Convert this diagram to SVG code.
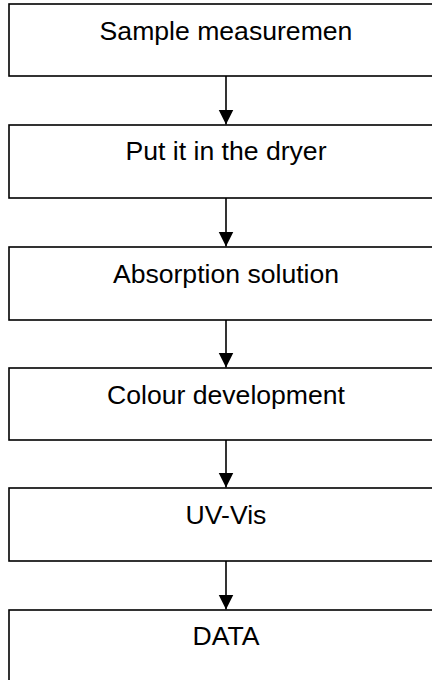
<svg xmlns="http://www.w3.org/2000/svg" width="432" height="680" viewBox="0 0 432 680">
<style>
.box{fill:#fff;stroke:#000;stroke-width:1.6}
.lbl{font-family:"Liberation Sans",Arial,sans-serif;font-size:26.6px;fill:#000;text-anchor:middle}
.con{stroke:#000;stroke-width:1.6;fill:none}
</style>
<defs>
<marker id="ah" markerUnits="userSpaceOnUse" markerWidth="16" markerHeight="16" refX="15" refY="7.5" orient="auto">
<path d="M0,0 L15,7.5 L0,15 Z" fill="#000"/>
</marker>
</defs>
<rect width="432" height="680" fill="#fff"/>
<g id="n1"><rect class="box" x="9" y="4" width="434" height="72"/><text class="lbl" x="226" y="39.5">Sample measuremen</text></g>
<g id="n2"><rect class="box" x="9" y="125" width="434" height="73"/><text class="lbl" x="226" y="160">Put it in the dryer</text></g>
<g id="n3"><rect class="box" x="9" y="247" width="434" height="73"/><text class="lbl" x="226" y="282.5">Absorption solution</text></g>
<g id="n4"><rect class="box" x="9" y="368" width="434" height="72"/><text class="lbl" x="226" y="403.5">Colour development</text></g>
<g id="n5"><rect class="box" x="9" y="488" width="434" height="73"/><text class="lbl" x="226" y="523.5">UV-Vis</text></g>
<g id="n6"><rect class="box" x="9" y="610" width="434" height="80"/><text class="lbl" x="226" y="644.5">DATA</text></g>
<g id="connectors">
<line class="con" x1="226" y1="76" x2="226" y2="124.5" marker-end="url(#ah)"/>
<line class="con" x1="226" y1="198" x2="226" y2="246.5" marker-end="url(#ah)"/>
<line class="con" x1="226" y1="320" x2="226" y2="367.5" marker-end="url(#ah)"/>
<line class="con" x1="226" y1="440" x2="226" y2="487.5" marker-end="url(#ah)"/>
<line class="con" x1="226" y1="561" x2="226" y2="609.5" marker-end="url(#ah)"/>
</g>
</svg>
